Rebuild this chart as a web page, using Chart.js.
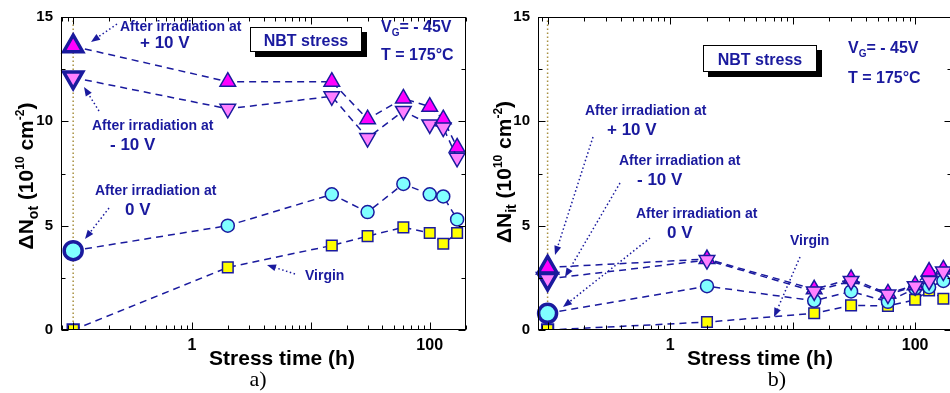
<!DOCTYPE html>
<html><head><meta charset="utf-8">
<script src="https://cdn.jsdelivr.net/npm/chart.js@4/dist/chart.umd.min.js"></script>
<style>
html,body{margin:0;padding:0;background:#fff;overflow:hidden;width:950px;height:393px}
#ca{position:absolute;left:0;top:0}
#cb{position:absolute;left:478px;top:0}
</style></head><body>
<canvas id="ca" width="480" height="393"></canvas>
<canvas id="cb" width="500" height="393"></canvas>
<script>
// ---------- data ----------
const stressTime = [0.1, 2, 15, 30, 60, 100, 130, 170];
const seriesNames = ['After irradiation at + 10 V', 'After irradiation at - 10 V', 'After irradiation at 0 V', 'Virgin'];
// panel a) : Delta N_ot (1e10 cm^-2)
const notPlus10  = [13.6, 11.9, 11.9, 10.1, 11.1, 10.7, 10.1, 8.75];
const notMinus10 = [12.1, 10.6, 11.2, 9.2, 10.5, 9.85, 9.7, 8.25];
const notZero    = [3.8, 5.0, 6.5, 5.65, 7.0, 6.5, 6.4, 5.3];
const notVirgin  = [0, 3.0, 4.05, 4.5, 4.92, 4.65, 4.13, 4.65];
// panel b) : Delta N_it (1e10 cm^-2)
const nitPlus10  = [3.0, 3.4, 1.95, 2.45, 1.75, 2.15, 2.8, 2.9];
const nitMinus10 = [2.45, 3.35, 1.85, 2.35, 1.7, 2.1, 2.35, 2.8];
const nitZero    = [0.8, 2.1, 1.4, 1.85, 1.35, 2.0, 2.05, 2.35];
const nitVirgin  = [0, 0.38, 0.8, 1.18, 1.15, 1.45, 1.9, 1.5];
const yTickValues = [0, 5, 10, 15];
const xTickValues = [1, 100];
const initialTime = 0.1;
const initialSpan = [0, 15];

// ---------- style ----------
const FAM = '"Liberation Sans", Arial, Helvetica, sans-serif';
const NAVY = '#1a1a9e';
Chart.defaults.font.family = FAM;
const styles = [
  {fill:'#ff00ff', shape:'triangle', rot:0,   r:9,   R:11, bw:3.5, order:2},
  {fill:'#ff80ff', shape:'triangle', rot:180, r:9,   R:11, bw:3.5, order:1},
  {fill:'#80ffff', shape:'circle',   rot:0,   r:6.5, R:9,  bw:3.5, order:3},
  {fill:'#ffff00', shape:'rect',     rot:0,   r:7.5, R:8,  bw:2,   order:4}
];

function makeDatasets(vals){
  const ds = vals.map((v,i)=>({
    label: seriesNames[i],
    data: stressTime.map((t,j)=>({x:t, y:v[j]})),
    borderColor: NAVY, borderWidth: 1.5, borderDash: [7,5],
    pointStyle: styles[i].shape, pointRotation: styles[i].rot,
    pointBackgroundColor: styles[i].fill, pointBorderColor: NAVY,
    pointRadius: c => c.dataIndex === 0 ? styles[i].R : styles[i].r,
    pointHoverRadius: c => c.dataIndex === 0 ? styles[i].R : styles[i].r,
    pointBorderWidth: c => c.dataIndex === 0 ? styles[i].bw : 1.5,
    order: styles[i].order, tension: 0, fill: false,
    clip: {left: 30, right: 30, top: 30, bottom: 0}
  }));
  ds.push({label:'start', data: initialSpan.map(y=>({x:initialTime, y})),
    borderColor:'#a89040', borderWidth:1.5, borderDash:[1.5,2.5], pointRadius:0, order:10});
  return ds;
}

function richWidth(ctx, parts){
  let w = 0;
  for (const p of parts){ ctx.font = `${p.w||'bold'} ${p.s}px ${FAM}`; w += ctx.measureText(p.t).width; }
  return w;
}
function drawRich(ctx, parts, x, y, align){
  const w = richWidth(ctx, parts);
  let cx = align === 'center' ? x - w/2 : (align === 'right' ? x - w : x);
  ctx.textAlign = 'left'; ctx.textBaseline = 'alphabetic';
  for (const p of parts){
    ctx.font = `${p.w||'bold'} ${p.s}px ${FAM}`;
    ctx.fillText(p.t, cx, y + (p.dy||0));
    cx += ctx.measureText(p.t).width;
  }
}
function drawArrow(ctx, x1, y1, x2, y2){
  ctx.save();
  ctx.strokeStyle = NAVY; ctx.fillStyle = NAVY; ctx.lineWidth = 1.5;
  const ang = Math.atan2(y2-y1, x2-x1), L = 9, W = 3.5;
  const bx = x2 - L*Math.cos(ang), by = y2 - L*Math.sin(ang);
  ctx.setLineDash([1.5,2.5]);
  ctx.beginPath(); ctx.moveTo(x1,y1); ctx.lineTo(bx,by); ctx.stroke();
  ctx.setLineDash([]);
  ctx.beginPath(); ctx.moveTo(x2,y2);
  ctx.lineTo(bx - W*Math.sin(ang), by + W*Math.cos(ang));
  ctx.lineTo(bx + W*Math.sin(ang), by - W*Math.cos(ang));
  ctx.closePath(); ctx.fill();
  ctx.restore();
}

const decor = {
  id: 'decor',
  afterDatasetsDraw(chart, args, o){
    const ctx = chart.ctx, a = chart.chartArea, xs = chart.scales.x, ys = chart.scales.y;
    ctx.save();
    // frame
    ctx.strokeStyle = '#000'; ctx.lineWidth = 1; ctx.setLineDash([]);
    const L = Math.round(a.left)+0.5, R = Math.round(a.right)-0.5, T = Math.round(a.top)+0.5, B = Math.round(a.bottom)-0.5;
    ctx.strokeRect(L, T, R-L, B-T);
    const tick = (x1,y1,x2,y2)=>{ ctx.beginPath(); ctx.moveTo(x1,y1); ctx.lineTo(x2,y2); ctx.stroke(); };
    for (let d=-2; d<=3; d++) for (let k=1; k<=9; k++){
      const v = k*Math.pow(10,d);
      if (v < xs.min || v > xs.max) continue;
      const px = Math.round(xs.getPixelForValue(v)) + 0.5;
      const len = k === 1 ? 7 : 4;
      tick(px, B, px, B-len); tick(px, T, px, T+len);
    }
    for (let v=ys.min; v<=ys.max+1e-9; v+=2.5){
      const py = Math.round(ys.getPixelForValue(v)) + 0.5;
      const len = (Math.abs(v % 5) < 1e-9) ? 7 : 4;
      tick(L, py, L+len, py); tick(R, py, R-len, py);
    }
    // box
    const bx = o.box;
    ctx.fillStyle = '#000'; ctx.fillRect(bx.x+5, bx.y+5, bx.w, bx.h);
    ctx.fillStyle = '#fff'; ctx.fillRect(bx.x, bx.y, bx.w, bx.h);
    ctx.strokeStyle = '#000'; ctx.strokeRect(bx.x+0.5, bx.y+0.5, bx.w-1, bx.h-1);
    ctx.fillStyle = NAVY;
    drawRich(ctx, [{t:'NBT stress', s:16}], bx.x + bx.w/2, bx.y + bx.h/2 + 6, 'center');
    // conditions
    drawRich(ctx, [{t:'V', s:16}, {t:'G', s:10, dy:4}, {t:'= - 45V', s:16}], o.cond.x, o.cond.y1, 'left');
    drawRich(ctx, [{t:'T = 175°C', s:16}], o.cond.x, o.cond.y2, 'left');
    // notes
    for (const n of o.notes) drawRich(ctx, [{t:n.t, s:n.s}], n.x, n.y, 'left');
    for (const ar of o.arrows) drawArrow(ctx, ar[0], ar[1], ar[2], ar[3]);
    // x title
    ctx.fillStyle = '#000';
    drawRich(ctx, [{t:'Stress time (h)', s:21}], o.xtitle.x, o.xtitle.y, 'center');
    // y title (rotated)
    ctx.save();
    ctx.translate(o.ytitle.x, o.ytitle.y); ctx.rotate(-Math.PI/2);
    drawRich(ctx, [{t:'\u0394N', s:21}, {t:o.ytitle.sub, s:14, dy:5}, {t:' (10', s:21}, {t:'10', s:12, dy:-9},
                   {t:' cm', s:21}, {t:'-2', s:12, dy:-9}, {t:')', s:21}], 0, 0, 'center');
    ctx.restore();
    // caption
    ctx.font = `22px "Liberation Serif", "Times New Roman", serif`;
    ctx.textAlign = 'center'; ctx.textBaseline = 'alphabetic';
    ctx.fillText(o.caption.t, o.caption.x, o.caption.y);
    ctx.restore();
  }
};

function makeChart(id, vals, xmin, pad, deco){
  return new Chart(document.getElementById(id), {
    type: 'line',
    data: { datasets: makeDatasets(vals) },
    plugins: [decor],
    options: {
      responsive: false, animation: false, devicePixelRatio: 1,
      layout: { padding: pad },
      plugins: { legend: {display:false}, tooltip: {enabled:false}, decor: deco },
      scales: {
        x: { type:'logarithmic', min: xmin, max: 200,
             grid: {display:false, drawTicks:false}, border: {display:false},
             afterBuildTicks: s => { s.ticks = xTickValues.map(v=>({value:v})); },
             afterFit: s => { s.height = 63; },
             ticks: { autoSkip:false, maxRotation:0, padding:6, color:'#000',
                      font:{size:16, weight:'bold'}, callback: v => String(v) } },
        y: { type:'linear', min: 0, max: 15,
             grid: {display:false, drawTicks:false}, border: {display:false},
             afterBuildTicks: s => { s.ticks = yTickValues.map(v=>({value:v})); },
             afterFit: s => { s.width = pad.yw; },
             ticks: { padding:8, color:'#000', font:{size:15, weight:'bold'} } }
      }
    }
  });
}

const off = 478;
makeChart('ca', [notPlus10, notMinus10, notZero, notVirgin], 0.079,
  {left:0, right:8, top:13, bottom:0, yw:61},
  { box:{x:250, y:27, w:112, h:25},
    cond:{x:381, y1:32, y2:60},
    notes:[ {t:'After irradiation at', x:120, y:31, s:14}, {t:'+ 10 V', x:140, y:48, s:17},
            {t:'After irradiation at', x:92, y:130, s:14}, {t:'- 10 V', x:110, y:150, s:17},
            {t:'After irradiation at', x:95, y:195, s:14}, {t:'0 V', x:125, y:215, s:17},
            {t:'Virgin', x:305, y:280, s:14} ],
    arrows:[ [117,24,91,42], [99,111,84,87], [109,208,85,239], [295,274,267,265] ],
    xtitle:{x:282, y:365}, ytitle:{x:33, y:176, sub:'ot'}, caption:{t:'a)', x:258, y:386} });

makeChart('cb', [nitPlus10, nitMinus10, nitZero, nitVirgin], 0.0835,
  {left:0, right:26, top:12, bottom:0, yw:60},
  { box:{x:703-off, y:45, w:114, h:27},
    cond:{x:848-off, y1:53, y2:83},
    notes:[ {t:'After irradiation at', x:585-off, y:115, s:14}, {t:'+ 10 V', x:607-off, y:135, s:17},
            {t:'After irradiation at', x:619-off, y:165, s:14}, {t:'- 10 V', x:637-off, y:185, s:17},
            {t:'After irradiation at', x:636-off, y:218, s:14}, {t:'0 V', x:667-off, y:238, s:17},
            {t:'Virgin', x:790-off, y:245, s:14} ],
    arrows:[ [593-off,137,555-off,255], [620-off,183,565-off,277], [650-off,238,563-off,307], [800-off,257,774-off,317] ],
    xtitle:{x:760-off, y:365}, ytitle:{x:33, y:172, sub:'it'}, caption:{t:'b)', x:777-off, y:386} });
</script>
</body></html>
